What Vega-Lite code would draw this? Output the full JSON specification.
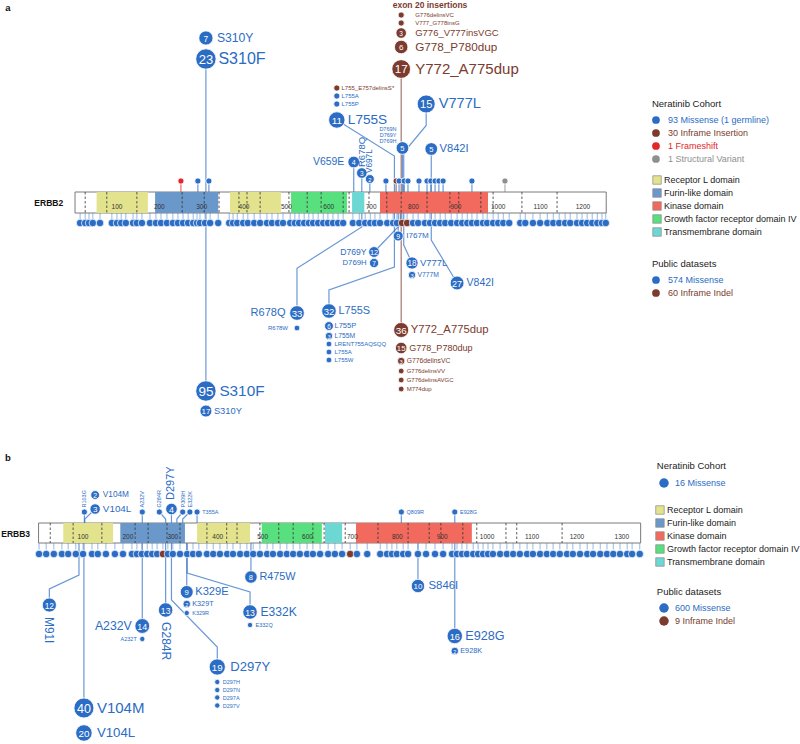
{
"$schema":"https://vega.github.io/schema/vega-lite/v6.json",
"padding":0,"spacing":0,"bounds":"flush","background":"white",
"config":{"view":{"stroke":null},"font":"Liberation Sans","text":{"font":"Liberation Sans"}},
"datasets":{
"ma":[
{"g":"C","x":310,"lv":-164.5,"n":7,"t":"M","lab":"S310Y","s":"r","st":0},
{"g":"C","x":310,"lv":-143.5,"n":23,"t":"M","lab":"S310F","s":"r","st":1},
{"g":"C","x":771,"lv":-187.5,"n":1,"t":"I","lab":"G776delinsVC","s":"rc","st":0},
{"g":"C","x":771,"lv":-179.5,"n":1,"t":"I","lab":"V777_G778insG","s":"rc","st":0},
{"g":"C","x":771,"lv":-169.5,"n":3,"t":"I","lab":"G776_V777insVGC","s":"rc","st":0},
{"g":"C","x":771,"lv":-155.5,"n":6,"t":"I","lab":"G778_P780dup","s":"rc","st":0},
{"g":"C","x":771,"lv":-133.5,"n":17,"t":"I","lab":"Y772_A775dup","s":"rc","st":1},
{"g":"C","x":619,"lv":-114.5,"n":1,"t":"I","lab":"L755_E757delinsS*","s":"r","st":0},
{"g":"C","x":619,"lv":-106.5,"n":1,"t":"M","lab":"L755A","s":"r","st":0},
{"g":"C","x":619,"lv":-98.5,"n":1,"t":"M","lab":"L755P","s":"r","st":0},
{"g":"C","x":619,"lv":-82.5,"n":11,"t":"M","lab":"L755S","s":"r","st":0},
{"g":"C","x":830,"lv":-98.5,"n":15,"t":"M","lab":"V777L","s":"r","st":0},
{"g":"C","x":774,"lv":-54.5,"n":5,"t":"M","lab":"","s":"n","st":1},
{"g":"C","x":842,"lv":-53.5,"n":5,"t":"M","lab":"V842I","s":"r","st":1},
{"g":"C","x":659,"lv":-40.5,"n":4,"t":"M","lab":"V659E","s":"l","st":1},
{"g":"C","x":678,"lv":-29.5,"n":3,"t":"M","lab":"R678Q","s":"u","st":1},
{"g":"C","x":697,"lv":-23.5,"n":2,"t":"M","lab":"V697L","s":"u","st":1},
{"g":"C","x":251,"lv":-21.5,"n":1,"t":"F","lab":"","s":"n","st":1},
{"g":"C","x":291,"lv":-21.5,"n":1,"t":"M","lab":"","s":"n","st":1},
{"g":"C","x":317,"lv":-21.5,"n":1,"t":"M","lab":"","s":"n","st":1},
{"g":"C","x":735,"lv":-21.5,"n":1,"t":"M","lab":"","s":"n","st":1},
{"g":"C","x":759,"lv":-21.5,"n":1,"t":"I","lab":"","s":"n","st":1},
{"g":"C","x":766,"lv":-21.5,"n":1,"t":"M","lab":"","s":"n","st":1},
{"g":"C","x":778,"lv":-21.5,"n":1,"t":"M","lab":"","s":"n","st":1},
{"g":"C","x":787,"lv":-21.5,"n":1,"t":"M","lab":"","s":"n","st":1},
{"g":"C","x":813,"lv":-21.5,"n":1,"t":"M","lab":"","s":"n","st":1},
{"g":"C","x":832,"lv":-21.5,"n":1,"t":"M","lab":"","s":"n","st":1},
{"g":"C","x":841,"lv":-21.5,"n":1,"t":"M","lab":"","s":"n","st":1},
{"g":"C","x":851,"lv":-21.5,"n":1,"t":"M","lab":"","s":"n","st":1},
{"g":"C","x":860,"lv":-21.5,"n":1,"t":"M","lab":"","s":"n","st":1},
{"g":"C","x":870,"lv":-21.5,"n":1,"t":"M","lab":"","s":"n","st":1},
{"g":"C","x":938,"lv":-21.5,"n":1,"t":"M","lab":"","s":"n","st":1},
{"g":"C","x":1016,"lv":-21.5,"n":1,"t":"S","lab":"","s":"n","st":1},
{"g":"P","x":764,"lv":33.5,"n":9,"t":"M","lab":"I767M","s":"r","st":1},
{"g":"P","x":707,"lv":49.5,"n":12,"t":"M","lab":"D769Y","s":"l","st":0},
{"g":"P","x":707,"lv":60.5,"n":7,"t":"M","lab":"D769H","s":"l","st":0},
{"g":"P","x":796.5,"lv":60.5,"n":18,"t":"M","lab":"V777L","s":"r","st":0},
{"g":"P","x":796.5,"lv":72.5,"n":3,"t":"M","lab":"V777M","s":"r","st":0},
{"g":"P","x":903,"lv":80.5,"n":27,"t":"M","lab":"V842I","s":"r","st":0},
{"g":"P","x":525,"lv":110.5,"n":33,"t":"M","lab":"R678Q","s":"l","st":0},
{"g":"P","x":525,"lv":125.5,"n":1,"t":"M","lab":"R678W","s":"l","st":0},
{"g":"P","x":600.5,"lv":108.5,"n":32,"t":"M","lab":"L755S","s":"r","st":0},
{"g":"P","x":600.5,"lv":123.5,"n":6,"t":"M","lab":"L755P","s":"r","st":0},
{"g":"P","x":600.5,"lv":133.5,"n":3,"t":"M","lab":"L755M","s":"r","st":0},
{"g":"P","x":600.5,"lv":141.5,"n":1,"t":"M","lab":"LRENT755AQSQQ","s":"r","st":0},
{"g":"P","x":600.5,"lv":149.5,"n":1,"t":"M","lab":"L755A","s":"r","st":0},
{"g":"P","x":600.5,"lv":157.5,"n":1,"t":"M","lab":"L755W","s":"r","st":0},
{"g":"P","x":771,"lv":127.5,"n":36,"t":"I","lab":"Y772_A775dup","s":"r","st":1},
{"g":"P","x":771,"lv":145.5,"n":15,"t":"I","lab":"G778_P780dup","s":"r","st":0},
{"g":"P","x":771,"lv":158.5,"n":3,"t":"I","lab":"G776delinsVC","s":"r","st":0},
{"g":"P","x":771,"lv":168.5,"n":1,"t":"I","lab":"G776delinsVV","s":"r","st":0},
{"g":"P","x":771,"lv":177.5,"n":1,"t":"I","lab":"G776delinsAVGC","s":"r","st":0},
{"g":"P","x":771,"lv":186.5,"n":1,"t":"I","lab":"M774dup","s":"r","st":0},
{"g":"P","x":310,"lv":188.5,"n":95,"t":"M","lab":"S310F","s":"r","st":1},
{"g":"P","x":310,"lv":208.5,"n":17,"t":"M","lab":"S310Y","s":"r","st":0}
],
"ba":[
{"id":"c1","o":1,"x":755,"lv":0,"t":"M"},{"id":"c1","o":2,"x":755,"lv":-46.5,"t":"M"},{"id":"c1","o":3,"x":619,"lv":-82.5,"t":"M"},
{"id":"c2","o":1,"x":777,"lv":0,"t":"M"},{"id":"c2","o":2,"x":777,"lv":-50,"t":"M"},{"id":"c2","o":3,"x":830,"lv":-77,"t":"M"},{"id":"c2","o":4,"x":830,"lv":-98.5,"t":"M"},
{"id":"p1","o":1,"x":769,"lv":0,"t":"M"},{"id":"p1","o":2,"x":769,"lv":22,"t":"M"},{"id":"p1","o":3,"x":707,"lv":49.5,"t":"M"},
{"id":"p2","o":1,"x":777,"lv":0,"t":"M"},{"id":"p2","o":2,"x":777,"lv":42.5,"t":"M"},{"id":"p2","o":3,"x":796.5,"lv":60.5,"t":"M"},
{"id":"p3","o":1,"x":842,"lv":0,"t":"M"},{"id":"p3","o":2,"x":842,"lv":37.5,"t":"M"},{"id":"p3","o":3,"x":903,"lv":80.5,"t":"M"},
{"id":"p4","o":1,"x":678,"lv":0,"t":"M"},{"id":"p4","o":2,"x":678,"lv":24.5,"t":"M"},{"id":"p4","o":3,"x":525,"lv":65.8,"t":"M"},{"id":"p4","o":4,"x":525,"lv":110.5,"t":"M"},
{"id":"p5","o":1,"x":755,"lv":0,"t":"M"},{"id":"p5","o":2,"x":755,"lv":64.5,"t":"M"},{"id":"p5","o":3,"x":600.5,"lv":87.5,"t":"M"},{"id":"p5","o":4,"x":600.5,"lv":108.5,"t":"M"}
],
"da":[{"x":13},{"x":25},{"x":34},{"x":43},{"x":60},{"x":88},{"x":100},{"x":110},{"x":121},{"x":138},{"x":147},{"x":159},{"x":178},{"x":192},{"x":204},{"x":218},{"x":232},{"x":244},{"x":256},{"x":268},{"x":280},{"x":289},{"x":296},{"x":308},{"x":320},{"x":339},{"x":365},{"x":374},{"x":384},{"x":398},{"x":409},{"x":424},{"x":438},{"x":454},{"x":466},{"x":480},{"x":492},{"x":509},{"x":520},{"x":530},{"x":542},{"x":553},{"x":563},{"x":575},{"x":587},{"x":598},{"x":610},{"x":622},{"x":634},{"x":657},{"x":672},{"x":686},{"x":698},{"x":709},{"x":721},{"x":738},{"x":752},{"x":761},{"x":773,"t":"I"},{"x":785,"t":"I"},{"x":799},{"x":811},{"x":827},{"x":839},{"x":851},{"x":863},{"x":875},{"x":889},{"x":903},{"x":915},{"x":927},{"x":938},{"x":950},{"x":964},{"x":974},{"x":988},{"x":1000},{"x":1012},{"x":1026},{"x":1052},{"x":1064},{"x":1082},{"x":1099},{"x":1116},{"x":1130},{"x":1144},{"x":1158},{"x":1170},{"x":1186},{"x":1198},{"x":1210},{"x":1222},{"x":1234},{"x":1245},{"x":1254}],
"pa":[{"s":1,"e":1255}],
"doma":[{"s":52,"e":173,"dom":"Receptor L domain"},{"s":367,"e":487,"dom":"Receptor L domain"},{"s":190,"e":339,"dom":"Furin-like domain"},{"s":511,"e":643,"dom":"Growth factor receptor domain IV"},{"s":655,"e":684,"dom":"Transmembrane domain"},{"s":721,"e":976,"dom":"Kinase domain"}],
"ea":[{"x":25},{"x":76},{"x":147},{"x":254},{"x":306},{"x":341},{"x":388},{"x":407},{"x":438},{"x":506},{"x":549},{"x":582},{"x":634},{"x":648},{"x":695},{"x":737},{"x":771},{"x":832},{"x":886},{"x":907},{"x":959},{"x":988},{"x":1056},{"x":1139}],
"ka":[{"x":100},{"x":200},{"x":300},{"x":400},{"x":500},{"x":600},{"x":700},{"x":800},{"x":900},{"x":1000},{"x":1100},{"x":1200}],
"na":[{"k":"gene","x":-27,"lv":0.5,"lab":"ERBB2"},{"k":"panel","x":-164,"lv":-194.5,"lab":"a"},{"k":"ex","x":751,"lv":-198,"lab":"exon 20 insertions"},{"k":"d769","x":760,"lv":-73.2,"lab":"D769N"},{"k":"d769","x":760,"lv":-67.5,"lab":"D769Y"},{"k":"d769","x":760,"lv":-61.8,"lab":"D769H"}],
"la":[
{"k":"h","x":1363,"lv":-98.5,"lab":"Neratinib Cohort"},
{"k":"c","x":1372.5,"lv":-82.5,"t":"M","lab":"93 Missense (1 germline)"},
{"k":"c","x":1372.5,"lv":-69.5,"t":"I","lab":"30 Inframe Insertion"},
{"k":"c","x":1372.5,"lv":-56.5,"t":"F","lab":"1 Frameshift"},
{"k":"c","x":1372.5,"lv":-43.5,"t":"S","lab":"1 Structural Variant"},
{"k":"d","x":1375,"lv":-22.5,"dom":"Receptor L domain"},
{"k":"d","x":1375,"lv":-9.5,"dom":"Furin-like domain"},
{"k":"d","x":1375,"lv":3.5,"dom":"Kinase domain"},
{"k":"d","x":1375,"lv":16.5,"dom":"Growth factor receptor domain IV"},
{"k":"d","x":1375,"lv":29.5,"dom":"Transmembrane domain"},
{"k":"h","x":1363,"lv":61.5,"lab":"Public datasets"},
{"k":"c","x":1372.5,"lv":77.5,"t":"M","lab":"574 Missense"},
{"k":"c","x":1372.5,"lv":90.5,"t":"I","lab":"60 Inframe Indel"}
],
"mb":[
{"g":"C","x":103,"lv":-21,"n":1,"t":"M","lab":"R103G","s":"u","st":1},
{"g":"C","x":127,"lv":-24,"n":3,"t":"M","lab":"V104L","s":"r","st":0},
{"g":"C","x":127,"lv":-38,"n":2,"t":"M","lab":"V104M","s":"r","st":0},
{"g":"C","x":232,"lv":-21,"n":1,"t":"M","lab":"A232V","s":"u","st":1},
{"g":"C","x":270,"lv":-21,"n":1,"t":"M","lab":"G284R","s":"u","st":0},
{"g":"C","x":297,"lv":-24,"n":4,"t":"M","lab":"D297Y","s":"u","st":1},
{"g":"C","x":322,"lv":-21,"n":1,"t":"M","lab":"P309H","s":"u","st":0},
{"g":"C","x":338,"lv":-21,"n":1,"t":"M","lab":"E322K","s":"u","st":0},
{"g":"C","x":354,"lv":-21,"n":1,"t":"M","lab":"T355A","s":"r","st":1},
{"g":"C","x":809,"lv":-21,"n":1,"t":"M","lab":"Q809R","s":"r","st":1},
{"g":"C","x":928,"lv":-21,"n":1,"t":"M","lab":"E928G","s":"r","st":1},
{"g":"P","x":25,"lv":72,"n":12,"t":"M","lab":"M91I","s":"d","st":0},
{"g":"P","x":102,"lv":175,"n":40,"t":"M","lab":"V104M","s":"r","st":1},
{"g":"P","x":102,"lv":200,"n":20,"t":"M","lab":"V104L","s":"r","st":0},
{"g":"P","x":232,"lv":93,"n":14,"t":"M","lab":"A232V","s":"l","st":1},
{"g":"P","x":232,"lv":106,"n":1,"t":"M","lab":"A232T","s":"l","st":0},
{"g":"P","x":284,"lv":77,"n":13,"t":"M","lab":"G284R","s":"d","st":1},
{"g":"P","x":399,"lv":134,"n":19,"t":"M","lab":"D297Y","s":"r","st":0},
{"g":"P","x":399,"lv":149,"n":1,"t":"M","lab":"D297H","s":"r","st":0},
{"g":"P","x":399,"lv":157,"n":1,"t":"M","lab":"D297N","s":"r","st":0},
{"g":"P","x":399,"lv":164.5,"n":1,"t":"M","lab":"D297A","s":"r","st":0},
{"g":"P","x":399,"lv":172.5,"n":1,"t":"M","lab":"D297V","s":"r","st":0},
{"g":"P","x":331,"lv":59,"n":9,"t":"M","lab":"K329E","s":"r","st":1},
{"g":"P","x":331,"lv":71,"n":2,"t":"M","lab":"K329T","s":"r","st":0},
{"g":"P","x":331,"lv":80,"n":1,"t":"M","lab":"K329R","s":"r","st":0},
{"g":"P","x":472,"lv":79,"n":13,"t":"M","lab":"E332K","s":"r","st":0},
{"g":"P","x":472,"lv":92,"n":1,"t":"M","lab":"E332Q","s":"r","st":0},
{"g":"P","x":474,"lv":44,"n":8,"t":"M","lab":"R475W","s":"r","st":1},
{"g":"P","x":846,"lv":53,"n":10,"t":"M","lab":"S846I","s":"r","st":1},
{"g":"P","x":928,"lv":103,"n":16,"t":"M","lab":"E928G","s":"r","st":1},
{"g":"P","x":928,"lv":118,"n":2,"t":"M","lab":"E928K","s":"r","st":0}
],
"bb":[
{"id":"c1","o":1,"x":104,"lv":0,"t":"M"},{"id":"c1","o":2,"x":104,"lv":-14,"t":"M"},{"id":"c1","o":3,"x":127,"lv":-24,"t":"M"},
{"id":"c2","o":1,"x":284,"lv":0,"t":"M"},{"id":"c2","o":2,"x":284,"lv":-14,"t":"M"},{"id":"c2","o":3,"x":270,"lv":-21,"t":"M"},
{"id":"c3","o":1,"x":309,"lv":0,"t":"M"},{"id":"c3","o":2,"x":309,"lv":-14,"t":"M"},{"id":"c3","o":3,"x":322,"lv":-21,"t":"M"},
{"id":"c4","o":1,"x":322,"lv":0,"t":"M"},{"id":"c4","o":2,"x":322,"lv":-14,"t":"M"},{"id":"c4","o":3,"x":338,"lv":-21,"t":"M"},
{"id":"p1","o":1,"x":91,"lv":0,"t":"M"},{"id":"p1","o":2,"x":91,"lv":42,"t":"M"},{"id":"p1","o":3,"x":25,"lv":56,"t":"M"},{"id":"p1","o":4,"x":25,"lv":72,"t":"M"},
{"id":"p2","o":1,"x":297,"lv":0,"t":"M"},{"id":"p2","o":2,"x":297,"lv":67,"t":"M"},{"id":"p2","o":3,"x":399,"lv":114,"t":"M"},{"id":"p2","o":4,"x":399,"lv":134,"t":"M"},
{"id":"p3","o":1,"x":332,"lv":0,"t":"M"},{"id":"p3","o":2,"x":332,"lv":40,"t":"M"},{"id":"p3","o":3,"x":472,"lv":59,"t":"M"},{"id":"p3","o":4,"x":472,"lv":79,"t":"M"}
],
"db":[{"x":2},{"x":18},{"x":35},{"x":53},{"x":67},{"x":84},{"x":100},{"x":120},{"x":133},{"x":151},{"x":171},{"x":189},{"x":209},{"x":220},{"x":231},{"x":243},{"x":254},{"x":265},{"x":278,"t":"I"},{"x":289},{"x":300},{"x":316},{"x":332},{"x":345},{"x":358},{"x":376},{"x":390},{"x":405},{"x":421},{"x":434},{"x":450},{"x":465},{"x":479},{"x":494},{"x":510},{"x":523},{"x":539},{"x":554},{"x":568},{"x":583},{"x":599},{"x":612},{"x":628},{"x":646},{"x":661},{"x":677},{"x":695,"t":"I"},{"x":710},{"x":733},{"x":762},{"x":777},{"x":788},{"x":799},{"x":813},{"x":824},{"x":846},{"x":864},{"x":884},{"x":902},{"x":922},{"x":933},{"x":944},{"x":955},{"x":969},{"x":980},{"x":991},{"x":1002},{"x":1013},{"x":1029},{"x":1044},{"x":1058},{"x":1073},{"x":1089},{"x":1102},{"x":1118},{"x":1133},{"x":1147},{"x":1162},{"x":1178},{"x":1191},{"x":1207},{"x":1223},{"x":1236},{"x":1252},{"x":1267},{"x":1281},{"x":1296},{"x":1312},{"x":1323},{"x":1340}],
"pb":[{"s":1,"e":1342}],
"domb":[{"s":56,"e":167,"dom":"Receptor L domain"},{"s":354,"e":472,"dom":"Receptor L domain"},{"s":183,"e":327,"dom":"Furin-like domain"},{"s":498,"e":632,"dom":"Growth factor receptor domain IV"},{"s":639,"e":677,"dom":"Transmembrane domain"},{"s":708,"e":966,"dom":"Kinase domain"}],
"eb":[{"x":27},{"x":78},{"x":142},{"x":216},{"x":245},{"x":287},{"x":316},{"x":376},{"x":420},{"x":443},{"x":494},{"x":536},{"x":568},{"x":612},{"x":637},{"x":684},{"x":757},{"x":824},{"x":871},{"x":897},{"x":946},{"x":977},{"x":1042},{"x":1066},{"x":1167}],
"kb":[{"x":100},{"x":200},{"x":300},{"x":400},{"x":500},{"x":600},{"x":700},{"x":800},{"x":900},{"x":1000},{"x":1100},{"x":1200},{"x":1300}],
"nb":[{"k":"gene","x":-18,"lv":0.5,"lab":"ERBB3"},{"k":"panel","x":-73.7,"lv":-75,"lab":"b"}],
"lb":[
{"k":"h","x":1378,"lv":-67,"lab":"Neratinib Cohort"},
{"k":"c","x":1394,"lv":-50,"t":"M","lab":"16 Missense"},
{"k":"d","x":1385,"lv":-23,"dom":"Receptor L domain"},
{"k":"d","x":1385,"lv":-10,"dom":"Furin-like domain"},
{"k":"d","x":1385,"lv":3,"dom":"Kinase domain"},
{"k":"d","x":1385,"lv":16,"dom":"Growth factor receptor domain IV"},
{"k":"d","x":1385,"lv":29,"dom":"Transmembrane domain"},
{"k":"h","x":1378,"lv":59,"lab":"Public datasets"},
{"k":"c","x":1394,"lv":75,"t":"M","lab":"600 Missense"},
{"k":"c","x":1394,"lv":88,"t":"I","lab":"9 Inframe Indel"}
]
},
"vconcat":[
{
"width":800,"height":450,
"resolve":{"scale":{"size":"independent"}},
"layer":[
{"data":{"name":"ma"},"transform":[{"filter":"datum.st==1"}],"mark":{"type":"rule","strokeWidth":1.2,"opacity":0.7},"encoding":{"x":{"field":"x","type":"quantitative","scale":{"domain":[-176.1,1712.5],"nice":false,"zero":false},"axis":null},"y":{"field":"lv","type":"quantitative","scale":{"domain":[-202.5,247.5],"nice":false,"zero":false,"reverse":true},"axis":null},"y2":{"datum":0},"color":{"field":"t","type":"nominal","scale":{"domain":["M","I","F","S"],"range":["#2b6cc4","#7b3b2e","#e3262b","#8f8f8f"]},"legend":null}}},
{"data":{"name":"ba"},"mark":{"type":"line","strokeWidth":1.2,"opacity":0.7},"encoding":{"x":{"field":"x","type":"quantitative","scale":{"domain":[-176.1,1712.5],"nice":false,"zero":false},"axis":null},"y":{"field":"lv","type":"quantitative","scale":{"domain":[-202.5,247.5],"nice":false,"zero":false,"reverse":true},"axis":null},"detail":{"field":"id","type":"nominal"},"order":{"field":"o","type":"quantitative"},"color":{"field":"t","type":"nominal","scale":{"domain":["M","I","F","S"],"range":["#2b6cc4","#7b3b2e","#e3262b","#8f8f8f"]},"legend":null}}},
{"data":{"name":"da"},"mark":{"type":"rule","strokeWidth":0.8,"color":"#7aa6df"},"encoding":{"x":{"field":"x","type":"quantitative","scale":{"domain":[-176.1,1712.5],"nice":false,"zero":false},"axis":null},"y":{"datum":0,"type":"quantitative","scale":{"domain":[-202.5,247.5],"nice":false,"zero":false,"reverse":true},"axis":null},"y2":{"datum":17.5}}},
{"data":{"name":"pa"},"mark":{"type":"rect","fill":"white","stroke":"#7a7a7a","strokeWidth":1},"encoding":{"x":{"field":"s","type":"quantitative","scale":{"domain":[-176.1,1712.5],"nice":false,"zero":false},"axis":null},"x2":{"field":"e"},"y":{"datum":-10.5,"type":"quantitative","scale":{"domain":[-202.5,247.5],"nice":false,"zero":false,"reverse":true},"axis":null},"y2":{"datum":10.5}}},
{"data":{"name":"doma"},"mark":{"type":"rect"},"encoding":{"x":{"field":"s","type":"quantitative","scale":{"domain":[-176.1,1712.5],"nice":false,"zero":false},"axis":null},"x2":{"field":"e"},"y":{"datum":-10.5,"type":"quantitative","scale":{"domain":[-202.5,247.5],"nice":false,"zero":false,"reverse":true},"axis":null},"y2":{"datum":10.5},"fill":{"field":"dom","type":"nominal","scale":{"domain":["Receptor L domain","Furin-like domain","Kinase domain","Growth factor receptor domain IV","Transmembrane domain"],"range":["#e3e38d","#6b98cb","#f26a5e","#58e07f","#6dd8d3"]},"legend":null}}},
{"data":{"name":"ea"},"mark":{"type":"rule","strokeDash":[2.5,2],"color":"#333","strokeWidth":0.8},"encoding":{"x":{"field":"x","type":"quantitative","scale":{"domain":[-176.1,1712.5],"nice":false,"zero":false},"axis":null},"y":{"datum":-10.5,"type":"quantitative","scale":{"domain":[-202.5,247.5],"nice":false,"zero":false,"reverse":true},"axis":null},"y2":{"datum":10.5}}},
{"data":{"name":"ka"},"mark":{"type":"text","fontSize":6.5,"color":"#333","baseline":"middle"},"encoding":{"x":{"field":"x","type":"quantitative","scale":{"domain":[-176.1,1712.5],"nice":false,"zero":false},"axis":null},"y":{"datum":4,"type":"quantitative","scale":{"domain":[-202.5,247.5],"nice":false,"zero":false,"reverse":true},"axis":null},"text":{"field":"x","type":"quantitative","format":"d"}}},
{"data":{"name":"da"},"mark":{"type":"point","filled":true,"size":56,"stroke":"white","strokeWidth":0.7,"opacity":1},"encoding":{"x":{"field":"x","type":"quantitative","scale":{"domain":[-176.1,1712.5],"nice":false,"zero":false},"axis":null},"y":{"datum":20.5,"type":"quantitative","scale":{"domain":[-202.5,247.5],"nice":false,"zero":false,"reverse":true},"axis":null},"color":{"condition":{"test":"datum.t=='I'","value":"#7b3b2e"},"value":"#2b6cc4"}}},
{"data":{"name":"ma"},"transform":[{"filter":"datum.g=='C'"}],"mark":{"type":"point","filled":true,"stroke":"white","strokeWidth":0.8,"opacity":1},"encoding":{"x":{"field":"x","type":"quantitative","scale":{"domain":[-176.1,1712.5],"nice":false,"zero":false},"axis":null},"y":{"field":"lv","type":"quantitative","scale":{"domain":[-202.5,247.5],"nice":false,"zero":false,"reverse":true},"axis":null},"color":{"field":"t","type":"nominal","scale":{"domain":["M","I","F","S"],"range":["#2b6cc4","#7b3b2e","#e3262b","#8f8f8f"]},"legend":null},"size":{"field":"n","type":"quantitative","scale":{"type":"sqrt","domain":[1,23],"range":[38,415]},"legend":null}}},
{"data":{"name":"ma"},"transform":[{"filter":"datum.g=='P'"}],"mark":{"type":"point","filled":true,"stroke":"white","strokeWidth":0.8,"opacity":1},"encoding":{"x":{"field":"x","type":"quantitative","scale":{"domain":[-176.1,1712.5],"nice":false,"zero":false},"axis":null},"y":{"field":"lv","type":"quantitative","scale":{"domain":[-202.5,247.5],"nice":false,"zero":false,"reverse":true},"axis":null},"color":{"field":"t","type":"nominal","scale":{"domain":["M","I","F","S"],"range":["#2b6cc4","#7b3b2e","#e3262b","#8f8f8f"]},"legend":null},"size":{"field":"n","type":"quantitative","scale":{"type":"pow","exponent":0.65,"domain":[1,95],"range":[33,415]},"legend":null}}},
{"data":{"name":"ma"},"transform":[{"filter":"datum.g=='C'&&datum.n>=2"}],"mark":{"type":"text","align":"center","baseline":"middle","color":"white","dy":0.5},"encoding":{"x":{"field":"x","type":"quantitative","scale":{"domain":[-176.1,1712.5],"nice":false,"zero":false},"axis":null},"y":{"field":"lv","type":"quantitative","scale":{"domain":[-202.5,247.5],"nice":false,"zero":false,"reverse":true},"axis":null},"text":{"field":"n","type":"quantitative"},"size":{"field":"n","type":"quantitative","scale":{"type":"sqrt","domain":[1,23],"range":[5,13]},"legend":null}}},
{"data":{"name":"ma"},"transform":[{"filter":"datum.g=='P'&&datum.n>=2"}],"mark":{"type":"text","align":"center","baseline":"middle","color":"white","dy":0.5},"encoding":{"x":{"field":"x","type":"quantitative","scale":{"domain":[-176.1,1712.5],"nice":false,"zero":false},"axis":null},"y":{"field":"lv","type":"quantitative","scale":{"domain":[-202.5,247.5],"nice":false,"zero":false,"reverse":true},"axis":null},"text":{"field":"n","type":"quantitative"},"size":{"field":"n","type":"quantitative","scale":{"type":"sqrt","domain":[1,95],"range":[5,13.5]},"legend":null}}},
{"data":{"name":"ma"},"transform":[{"filter":"datum.g=='C'&&datum.s=='r'&&datum.n<2"}],"mark":{"type":"text","align":"left","baseline":"middle","dx":4.7},"encoding":{"x":{"field":"x","type":"quantitative","scale":{"domain":[-176.1,1712.5],"nice":false,"zero":false},"axis":null},"y":{"field":"lv","type":"quantitative","scale":{"domain":[-202.5,247.5],"nice":false,"zero":false,"reverse":true},"axis":null},"text":{"field":"lab","type":"nominal"},"color":{"field":"t","type":"nominal","scale":{"domain":["M","I","F","S"],"range":["#2b6cc4","#7b3b2e","#e3262b","#8f8f8f"]},"legend":null},"size":{"field":"n","type":"quantitative","scale":{"type":"log","domain":[1,23],"range":[6,16]},"legend":null}}},
{"data":{"name":"ma"},"transform":[{"filter":"datum.g=='C'&&datum.s=='r'&&datum.n>=2&&datum.n<=5"}],"mark":{"type":"text","align":"left","baseline":"middle","dx":8.3},"encoding":{"x":{"field":"x","type":"quantitative","scale":{"domain":[-176.1,1712.5],"nice":false,"zero":false},"axis":null},"y":{"field":"lv","type":"quantitative","scale":{"domain":[-202.5,247.5],"nice":false,"zero":false,"reverse":true},"axis":null},"text":{"field":"lab","type":"nominal"},"color":{"field":"t","type":"nominal","scale":{"domain":["M","I","F","S"],"range":["#2b6cc4","#7b3b2e","#e3262b","#8f8f8f"]},"legend":null},"size":{"field":"n","type":"quantitative","scale":{"type":"log","domain":[1,23],"range":[6,16]},"legend":null}}},
{"data":{"name":"ma"},"transform":[{"filter":"datum.g=='C'&&datum.s=='r'&&datum.n>=6&&datum.n<=11"}],"mark":{"type":"text","align":"left","baseline":"middle","dx":11},"encoding":{"x":{"field":"x","type":"quantitative","scale":{"domain":[-176.1,1712.5],"nice":false,"zero":false},"axis":null},"y":{"field":"lv","type":"quantitative","scale":{"domain":[-202.5,247.5],"nice":false,"zero":false,"reverse":true},"axis":null},"text":{"field":"lab","type":"nominal"},"color":{"field":"t","type":"nominal","scale":{"domain":["M","I","F","S"],"range":["#2b6cc4","#7b3b2e","#e3262b","#8f8f8f"]},"legend":null},"size":{"field":"n","type":"quantitative","scale":{"type":"log","domain":[1,23],"range":[6,16]},"legend":null}}},
{"data":{"name":"ma"},"transform":[{"filter":"datum.g=='C'&&datum.s=='r'&&datum.n>=12"}],"mark":{"type":"text","align":"left","baseline":"middle","dx":12.5},"encoding":{"x":{"field":"x","type":"quantitative","scale":{"domain":[-176.1,1712.5],"nice":false,"zero":false},"axis":null},"y":{"field":"lv","type":"quantitative","scale":{"domain":[-202.5,247.5],"nice":false,"zero":false,"reverse":true},"axis":null},"text":{"field":"lab","type":"nominal"},"color":{"field":"t","type":"nominal","scale":{"domain":["M","I","F","S"],"range":["#2b6cc4","#7b3b2e","#e3262b","#8f8f8f"]},"legend":null},"size":{"field":"n","type":"quantitative","scale":{"type":"log","domain":[1,23],"range":[6,16]},"legend":null}}},
{"data":{"name":"ma"},"transform":[{"filter":"datum.g=='C'&&datum.s=='rc'"}],"mark":{"type":"text","align":"left","baseline":"middle","dx":14},"encoding":{"x":{"field":"x","type":"quantitative","scale":{"domain":[-176.1,1712.5],"nice":false,"zero":false},"axis":null},"y":{"field":"lv","type":"quantitative","scale":{"domain":[-202.5,247.5],"nice":false,"zero":false,"reverse":true},"axis":null},"text":{"field":"lab","type":"nominal"},"color":{"field":"t","type":"nominal","scale":{"domain":["M","I","F","S"],"range":["#2b6cc4","#7b3b2e","#e3262b","#8f8f8f"]},"legend":null},"size":{"field":"n","type":"quantitative","scale":{"type":"log","domain":[1,23],"range":[6,16]},"legend":null}}},
{"data":{"name":"ma"},"transform":[{"filter":"datum.g=='C'&&datum.s=='l'"}],"mark":{"type":"text","align":"right","baseline":"middle","dx":-9.5},"encoding":{"x":{"field":"x","type":"quantitative","scale":{"domain":[-176.1,1712.5],"nice":false,"zero":false},"axis":null},"y":{"field":"lv","type":"quantitative","scale":{"domain":[-202.5,247.5],"nice":false,"zero":false,"reverse":true},"axis":null},"text":{"field":"lab","type":"nominal"},"color":{"field":"t","type":"nominal","scale":{"domain":["M","I","F","S"],"range":["#2b6cc4","#7b3b2e","#e3262b","#8f8f8f"]},"legend":null},"size":{"field":"n","type":"quantitative","scale":{"type":"log","domain":[1,23],"range":[6,16]},"legend":null}}},
{"data":{"name":"ma"},"transform":[{"filter":"datum.g=='C'&&datum.s=='u'"}],"mark":{"type":"text","align":"left","baseline":"middle","angle":270,"dx":6},"encoding":{"x":{"field":"x","type":"quantitative","scale":{"domain":[-176.1,1712.5],"nice":false,"zero":false},"axis":null},"y":{"field":"lv","type":"quantitative","scale":{"domain":[-202.5,247.5],"nice":false,"zero":false,"reverse":true},"axis":null},"text":{"field":"lab","type":"nominal"},"color":{"field":"t","type":"nominal","scale":{"domain":["M","I","F","S"],"range":["#2b6cc4","#7b3b2e","#e3262b","#8f8f8f"]},"legend":null},"size":{"field":"n","type":"quantitative","scale":{"type":"log","domain":[1,23],"range":[6,16]},"legend":null}}},
{"data":{"name":"ma"},"transform":[{"filter":"datum.g=='P'&&datum.s=='r'&&datum.n<=6"}],"mark":{"type":"text","align":"left","baseline":"middle","dx":5.5},"encoding":{"x":{"field":"x","type":"quantitative","scale":{"domain":[-176.1,1712.5],"nice":false,"zero":false},"axis":null},"y":{"field":"lv","type":"quantitative","scale":{"domain":[-202.5,247.5],"nice":false,"zero":false,"reverse":true},"axis":null},"text":{"field":"lab","type":"nominal"},"color":{"field":"t","type":"nominal","scale":{"domain":["M","I","F","S"],"range":["#2b6cc4","#7b3b2e","#e3262b","#8f8f8f"]},"legend":null},"size":{"field":"n","type":"quantitative","scale":{"type":"sqrt","domain":[1,95],"range":[6,15.3]},"legend":null}}},
{"data":{"name":"ma"},"transform":[{"filter":"datum.g=='P'&&datum.s=='r'&&datum.n>=7&&datum.n<=20"}],"mark":{"type":"text","align":"left","baseline":"middle","dx":8},"encoding":{"x":{"field":"x","type":"quantitative","scale":{"domain":[-176.1,1712.5],"nice":false,"zero":false},"axis":null},"y":{"field":"lv","type":"quantitative","scale":{"domain":[-202.5,247.5],"nice":false,"zero":false,"reverse":true},"axis":null},"text":{"field":"lab","type":"nominal"},"color":{"field":"t","type":"nominal","scale":{"domain":["M","I","F","S"],"range":["#2b6cc4","#7b3b2e","#e3262b","#8f8f8f"]},"legend":null},"size":{"field":"n","type":"quantitative","scale":{"type":"sqrt","domain":[1,95],"range":[6,15.3]},"legend":null}}},
{"data":{"name":"ma"},"transform":[{"filter":"datum.g=='P'&&datum.s=='r'&&datum.n>=21&&datum.n<=40"}],"mark":{"type":"text","align":"left","baseline":"middle","dx":9.5},"encoding":{"x":{"field":"x","type":"quantitative","scale":{"domain":[-176.1,1712.5],"nice":false,"zero":false},"axis":null},"y":{"field":"lv","type":"quantitative","scale":{"domain":[-202.5,247.5],"nice":false,"zero":false,"reverse":true},"axis":null},"text":{"field":"lab","type":"nominal"},"color":{"field":"t","type":"nominal","scale":{"domain":["M","I","F","S"],"range":["#2b6cc4","#7b3b2e","#e3262b","#8f8f8f"]},"legend":null},"size":{"field":"n","type":"quantitative","scale":{"type":"sqrt","domain":[1,95],"range":[6,15.3]},"legend":null}}},
{"data":{"name":"ma"},"transform":[{"filter":"datum.g=='P'&&datum.s=='r'&&datum.n>40"}],"mark":{"type":"text","align":"left","baseline":"middle","dx":13.5},"encoding":{"x":{"field":"x","type":"quantitative","scale":{"domain":[-176.1,1712.5],"nice":false,"zero":false},"axis":null},"y":{"field":"lv","type":"quantitative","scale":{"domain":[-202.5,247.5],"nice":false,"zero":false,"reverse":true},"axis":null},"text":{"field":"lab","type":"nominal"},"color":{"field":"t","type":"nominal","scale":{"domain":["M","I","F","S"],"range":["#2b6cc4","#7b3b2e","#e3262b","#8f8f8f"]},"legend":null},"size":{"field":"n","type":"quantitative","scale":{"type":"sqrt","domain":[1,95],"range":[6,15.3]},"legend":null}}},
{"data":{"name":"ma"},"transform":[{"filter":"datum.g=='P'&&datum.s=='l'&&datum.n<=1"}],"mark":{"type":"text","align":"right","baseline":"middle","dx":-9},"encoding":{"x":{"field":"x","type":"quantitative","scale":{"domain":[-176.1,1712.5],"nice":false,"zero":false},"axis":null},"y":{"field":"lv","type":"quantitative","scale":{"domain":[-202.5,247.5],"nice":false,"zero":false,"reverse":true},"axis":null},"text":{"field":"lab","type":"nominal"},"color":{"field":"t","type":"nominal","scale":{"domain":["M","I","F","S"],"range":["#2b6cc4","#7b3b2e","#e3262b","#8f8f8f"]},"legend":null},"size":{"field":"n","type":"quantitative","scale":{"type":"sqrt","domain":[1,95],"range":[6,15.3]},"legend":null}}},
{"data":{"name":"ma"},"transform":[{"filter":"datum.g=='P'&&datum.s=='l'&&datum.n>=2&&datum.n<=15"}],"mark":{"type":"text","align":"right","baseline":"middle","dx":-7.5},"encoding":{"x":{"field":"x","type":"quantitative","scale":{"domain":[-176.1,1712.5],"nice":false,"zero":false},"axis":null},"y":{"field":"lv","type":"quantitative","scale":{"domain":[-202.5,247.5],"nice":false,"zero":false,"reverse":true},"axis":null},"text":{"field":"lab","type":"nominal"},"color":{"field":"t","type":"nominal","scale":{"domain":["M","I","F","S"],"range":["#2b6cc4","#7b3b2e","#e3262b","#8f8f8f"]},"legend":null},"size":{"field":"n","type":"quantitative","scale":{"type":"sqrt","domain":[1,95],"range":[6,15.3]},"legend":null}}},
{"data":{"name":"ma"},"transform":[{"filter":"datum.g=='P'&&datum.s=='l'&&datum.n>=16"}],"mark":{"type":"text","align":"right","baseline":"middle","dx":-11.5},"encoding":{"x":{"field":"x","type":"quantitative","scale":{"domain":[-176.1,1712.5],"nice":false,"zero":false},"axis":null},"y":{"field":"lv","type":"quantitative","scale":{"domain":[-202.5,247.5],"nice":false,"zero":false,"reverse":true},"axis":null},"text":{"field":"lab","type":"nominal"},"color":{"field":"t","type":"nominal","scale":{"domain":["M","I","F","S"],"range":["#2b6cc4","#7b3b2e","#e3262b","#8f8f8f"]},"legend":null},"size":{"field":"n","type":"quantitative","scale":{"type":"sqrt","domain":[1,95],"range":[6,15.3]},"legend":null}}},
{"data":{"name":"na"},"transform":[{"filter":"datum.k=='gene'"}],"mark":{"type":"text","align":"right","baseline":"middle","fontWeight":"bold","fontSize":8.5,"color":"#111"},"encoding":{"x":{"field":"x","type":"quantitative","scale":{"domain":[-176.1,1712.5],"nice":false,"zero":false},"axis":null},"y":{"field":"lv","type":"quantitative","scale":{"domain":[-202.5,247.5],"nice":false,"zero":false,"reverse":true},"axis":null},"text":{"field":"lab","type":"nominal"}}},
{"data":{"name":"na"},"transform":[{"filter":"datum.k=='panel'"}],"mark":{"type":"text","align":"left","baseline":"middle","fontWeight":"bold","fontSize":9.5,"color":"#111"},"encoding":{"x":{"field":"x","type":"quantitative","scale":{"domain":[-176.1,1712.5],"nice":false,"zero":false},"axis":null},"y":{"field":"lv","type":"quantitative","scale":{"domain":[-202.5,247.5],"nice":false,"zero":false,"reverse":true},"axis":null},"text":{"field":"lab","type":"nominal"}}},
{"data":{"name":"na"},"transform":[{"filter":"datum.k=='ex'"}],"mark":{"type":"text","align":"left","baseline":"middle","fontWeight":"bold","fontSize":8.5,"color":"#7b3b2e"},"encoding":{"x":{"field":"x","type":"quantitative","scale":{"domain":[-176.1,1712.5],"nice":false,"zero":false},"axis":null},"y":{"field":"lv","type":"quantitative","scale":{"domain":[-202.5,247.5],"nice":false,"zero":false,"reverse":true},"axis":null},"text":{"field":"lab","type":"nominal"}}},
{"data":{"name":"na"},"transform":[{"filter":"datum.k=='d769'"}],"mark":{"type":"text","align":"right","baseline":"middle","fontSize":5.5,"color":"#2b6cc4"},"encoding":{"x":{"field":"x","type":"quantitative","scale":{"domain":[-176.1,1712.5],"nice":false,"zero":false},"axis":null},"y":{"field":"lv","type":"quantitative","scale":{"domain":[-202.5,247.5],"nice":false,"zero":false,"reverse":true},"axis":null},"text":{"field":"lab","type":"nominal"}}},
{"data":{"name":"la"},"transform":[{"filter":"datum.k=='h'"}],"mark":{"type":"text","align":"left","baseline":"middle","fontSize":9.5,"color":"#222"},"encoding":{"x":{"field":"x","type":"quantitative","scale":{"domain":[-176.1,1712.5],"nice":false,"zero":false},"axis":null},"y":{"field":"lv","type":"quantitative","scale":{"domain":[-202.5,247.5],"nice":false,"zero":false,"reverse":true},"axis":null},"text":{"field":"lab","type":"nominal"}}},
{"data":{"name":"la"},"transform":[{"filter":"datum.k=='c'"}],"mark":{"type":"point","filled":true,"size":60,"opacity":1},"encoding":{"x":{"field":"x","type":"quantitative","scale":{"domain":[-176.1,1712.5],"nice":false,"zero":false},"axis":null},"y":{"field":"lv","type":"quantitative","scale":{"domain":[-202.5,247.5],"nice":false,"zero":false,"reverse":true},"axis":null},"color":{"field":"t","type":"nominal","scale":{"domain":["M","I","F","S"],"range":["#2b6cc4","#7b3b2e","#e3262b","#8f8f8f"]},"legend":null}}},
{"data":{"name":"la"},"transform":[{"filter":"datum.k=='c'"}],"mark":{"type":"text","align":"left","baseline":"middle","fontSize":9,"dx":12},"encoding":{"x":{"field":"x","type":"quantitative","scale":{"domain":[-176.1,1712.5],"nice":false,"zero":false},"axis":null},"y":{"field":"lv","type":"quantitative","scale":{"domain":[-202.5,247.5],"nice":false,"zero":false,"reverse":true},"axis":null},"text":{"field":"lab","type":"nominal"},"color":{"field":"t","type":"nominal","scale":{"domain":["M","I","F","S"],"range":["#2b6cc4","#7b3b2e","#e3262b","#8f8f8f"]},"legend":null}}},
{"data":{"name":"la"},"transform":[{"filter":"datum.k=='d'"}],"mark":{"type":"point","shape":"square","filled":true,"size":72,"stroke":"#888","strokeWidth":0.7,"opacity":1},"encoding":{"x":{"field":"x","type":"quantitative","scale":{"domain":[-176.1,1712.5],"nice":false,"zero":false},"axis":null},"y":{"field":"lv","type":"quantitative","scale":{"domain":[-202.5,247.5],"nice":false,"zero":false,"reverse":true},"axis":null},"fill":{"field":"dom","type":"nominal","scale":{"domain":["Receptor L domain","Furin-like domain","Kinase domain","Growth factor receptor domain IV","Transmembrane domain"],"range":["#e3e38d","#6b98cb","#f26a5e","#58e07f","#6dd8d3"]},"legend":null}}},
{"data":{"name":"la"},"transform":[{"filter":"datum.k=='d'"}],"mark":{"type":"text","align":"left","baseline":"middle","fontSize":9,"dx":7,"color":"#222"},"encoding":{"x":{"field":"x","type":"quantitative","scale":{"domain":[-176.1,1712.5],"nice":false,"zero":false},"axis":null},"y":{"field":"lv","type":"quantitative","scale":{"domain":[-202.5,247.5],"nice":false,"zero":false,"reverse":true},"axis":null},"text":{"field":"dom","type":"nominal"}}}
]
},
{
"width":800,"height":294,
"resolve":{"scale":{"size":"independent"}},
"layer":[
{"data":{"name":"mb"},"transform":[{"filter":"datum.st==1"}],"mark":{"type":"rule","strokeWidth":1.2,"opacity":0.7},"encoding":{"x":{"field":"x","type":"quantitative","scale":{"domain":[-84.9,1696.9],"nice":false,"zero":false},"axis":null},"y":{"field":"lv","type":"quantitative","scale":{"domain":[-83,211],"nice":false,"zero":false,"reverse":true},"axis":null},"y2":{"datum":0},"color":{"field":"t","type":"nominal","scale":{"domain":["M","I","F","S"],"range":["#2b6cc4","#7b3b2e","#e3262b","#8f8f8f"]},"legend":null}}},
{"data":{"name":"bb"},"mark":{"type":"line","strokeWidth":1.2,"opacity":0.7},"encoding":{"x":{"field":"x","type":"quantitative","scale":{"domain":[-84.9,1696.9],"nice":false,"zero":false},"axis":null},"y":{"field":"lv","type":"quantitative","scale":{"domain":[-83,211],"nice":false,"zero":false,"reverse":true},"axis":null},"detail":{"field":"id","type":"nominal"},"order":{"field":"o","type":"quantitative"},"color":{"field":"t","type":"nominal","scale":{"domain":["M","I","F","S"],"range":["#2b6cc4","#7b3b2e","#e3262b","#8f8f8f"]},"legend":null}}},
{"data":{"name":"db"},"mark":{"type":"rule","strokeWidth":0.8,"color":"#7aa6df"},"encoding":{"x":{"field":"x","type":"quantitative","scale":{"domain":[-84.9,1696.9],"nice":false,"zero":false},"axis":null},"y":{"datum":0,"type":"quantitative","scale":{"domain":[-83,211],"nice":false,"zero":false,"reverse":true},"axis":null},"y2":{"datum":16.5}}},
{"data":{"name":"pb"},"mark":{"type":"rect","fill":"white","stroke":"#7a7a7a","strokeWidth":1},"encoding":{"x":{"field":"s","type":"quantitative","scale":{"domain":[-84.9,1696.9],"nice":false,"zero":false},"axis":null},"x2":{"field":"e"},"y":{"datum":-10,"type":"quantitative","scale":{"domain":[-83,211],"nice":false,"zero":false,"reverse":true},"axis":null},"y2":{"datum":10}}},
{"data":{"name":"domb"},"mark":{"type":"rect"},"encoding":{"x":{"field":"s","type":"quantitative","scale":{"domain":[-84.9,1696.9],"nice":false,"zero":false},"axis":null},"x2":{"field":"e"},"y":{"datum":-10,"type":"quantitative","scale":{"domain":[-83,211],"nice":false,"zero":false,"reverse":true},"axis":null},"y2":{"datum":10},"fill":{"field":"dom","type":"nominal","scale":{"domain":["Receptor L domain","Furin-like domain","Kinase domain","Growth factor receptor domain IV","Transmembrane domain"],"range":["#e3e38d","#6b98cb","#f26a5e","#58e07f","#6dd8d3"]},"legend":null}}},
{"data":{"name":"eb"},"mark":{"type":"rule","strokeDash":[2.5,2],"color":"#333","strokeWidth":0.8},"encoding":{"x":{"field":"x","type":"quantitative","scale":{"domain":[-84.9,1696.9],"nice":false,"zero":false},"axis":null},"y":{"datum":-10,"type":"quantitative","scale":{"domain":[-83,211],"nice":false,"zero":false,"reverse":true},"axis":null},"y2":{"datum":10}}},
{"data":{"name":"kb"},"mark":{"type":"text","fontSize":6.5,"color":"#333","baseline":"middle"},"encoding":{"x":{"field":"x","type":"quantitative","scale":{"domain":[-84.9,1696.9],"nice":false,"zero":false},"axis":null},"y":{"datum":3.7,"type":"quantitative","scale":{"domain":[-83,211],"nice":false,"zero":false,"reverse":true},"axis":null},"text":{"field":"x","type":"quantitative","format":"d"}}},
{"data":{"name":"db"},"mark":{"type":"point","filled":true,"size":56,"stroke":"white","strokeWidth":0.7,"opacity":1},"encoding":{"x":{"field":"x","type":"quantitative","scale":{"domain":[-84.9,1696.9],"nice":false,"zero":false},"axis":null},"y":{"datum":21,"type":"quantitative","scale":{"domain":[-83,211],"nice":false,"zero":false,"reverse":true},"axis":null},"color":{"condition":{"test":"datum.t=='I'","value":"#7b3b2e"},"value":"#2b6cc4"}}},
{"data":{"name":"mb"},"transform":[{"filter":"datum.g=='C'"}],"mark":{"type":"point","filled":true,"stroke":"white","strokeWidth":0.8,"opacity":1},"encoding":{"x":{"field":"x","type":"quantitative","scale":{"domain":[-84.9,1696.9],"nice":false,"zero":false},"axis":null},"y":{"field":"lv","type":"quantitative","scale":{"domain":[-83,211],"nice":false,"zero":false,"reverse":true},"axis":null},"color":{"field":"t","type":"nominal","scale":{"domain":["M","I","F","S"],"range":["#2b6cc4","#7b3b2e","#e3262b","#8f8f8f"]},"legend":null},"size":{"field":"n","type":"quantitative","scale":{"type":"sqrt","domain":[1,4],"range":[38,133]},"legend":null}}},
{"data":{"name":"mb"},"transform":[{"filter":"datum.g=='P'"}],"mark":{"type":"point","filled":true,"stroke":"white","strokeWidth":0.8,"opacity":1},"encoding":{"x":{"field":"x","type":"quantitative","scale":{"domain":[-84.9,1696.9],"nice":false,"zero":false},"axis":null},"y":{"field":"lv","type":"quantitative","scale":{"domain":[-83,211],"nice":false,"zero":false,"reverse":true},"axis":null},"color":{"field":"t","type":"nominal","scale":{"domain":["M","I","F","S"],"range":["#2b6cc4","#7b3b2e","#e3262b","#8f8f8f"]},"legend":null},"size":{"field":"n","type":"quantitative","scale":{"type":"sqrt","domain":[1,40],"range":[28,400]},"legend":null}}},
{"data":{"name":"mb"},"transform":[{"filter":"datum.g=='C'&&datum.n>=2"}],"mark":{"type":"text","align":"center","baseline":"middle","color":"white","dy":0.5},"encoding":{"x":{"field":"x","type":"quantitative","scale":{"domain":[-84.9,1696.9],"nice":false,"zero":false},"axis":null},"y":{"field":"lv","type":"quantitative","scale":{"domain":[-83,211],"nice":false,"zero":false,"reverse":true},"axis":null},"text":{"field":"n","type":"quantitative"},"size":{"field":"n","type":"quantitative","scale":{"type":"sqrt","domain":[1,4],"range":[5.5,9]},"legend":null}}},
{"data":{"name":"mb"},"transform":[{"filter":"datum.g=='P'&&datum.n>=2"}],"mark":{"type":"text","align":"center","baseline":"middle","color":"white","dy":0.5},"encoding":{"x":{"field":"x","type":"quantitative","scale":{"domain":[-84.9,1696.9],"nice":false,"zero":false},"axis":null},"y":{"field":"lv","type":"quantitative","scale":{"domain":[-83,211],"nice":false,"zero":false,"reverse":true},"axis":null},"text":{"field":"n","type":"quantitative"},"size":{"field":"n","type":"quantitative","scale":{"type":"sqrt","domain":[1,40],"range":[5,12.5]},"legend":null}}},
{"data":{"name":"mb"},"transform":[{"filter":"datum.g=='C'&&datum.s=='r'&&datum.n<2"}],"mark":{"type":"text","align":"left","baseline":"middle","dx":5.2},"encoding":{"x":{"field":"x","type":"quantitative","scale":{"domain":[-84.9,1696.9],"nice":false,"zero":false},"axis":null},"y":{"field":"lv","type":"quantitative","scale":{"domain":[-83,211],"nice":false,"zero":false,"reverse":true},"axis":null},"text":{"field":"lab","type":"nominal"},"color":{"field":"t","type":"nominal","scale":{"domain":["M","I","F","S"],"range":["#2b6cc4","#7b3b2e","#e3262b","#8f8f8f"]},"legend":null},"size":{"field":"n","type":"quantitative","scale":{"type":"log","domain":[1,4],"range":[5.5,11]},"legend":null}}},
{"data":{"name":"mb"},"transform":[{"filter":"datum.g=='C'&&datum.s=='r'&&datum.n>=2"}],"mark":{"type":"text","align":"left","baseline":"middle","dx":7.7},"encoding":{"x":{"field":"x","type":"quantitative","scale":{"domain":[-84.9,1696.9],"nice":false,"zero":false},"axis":null},"y":{"field":"lv","type":"quantitative","scale":{"domain":[-83,211],"nice":false,"zero":false,"reverse":true},"axis":null},"text":{"field":"lab","type":"nominal"},"color":{"field":"t","type":"nominal","scale":{"domain":["M","I","F","S"],"range":["#2b6cc4","#7b3b2e","#e3262b","#8f8f8f"]},"legend":null},"size":{"field":"n","type":"quantitative","scale":{"type":"log","domain":[1,4],"range":[5.5,11]},"legend":null}}},
{"data":{"name":"mb"},"transform":[{"filter":"datum.g=='C'&&datum.s=='u'&&datum.n<2"}],"mark":{"type":"text","align":"left","baseline":"middle","angle":270,"dx":4.5},"encoding":{"x":{"field":"x","type":"quantitative","scale":{"domain":[-84.9,1696.9],"nice":false,"zero":false},"axis":null},"y":{"field":"lv","type":"quantitative","scale":{"domain":[-83,211],"nice":false,"zero":false,"reverse":true},"axis":null},"text":{"field":"lab","type":"nominal"},"color":{"field":"t","type":"nominal","scale":{"domain":["M","I","F","S"],"range":["#2b6cc4","#7b3b2e","#e3262b","#8f8f8f"]},"legend":null},"size":{"field":"n","type":"quantitative","scale":{"type":"log","domain":[1,4],"range":[5.5,11]},"legend":null}}},
{"data":{"name":"mb"},"transform":[{"filter":"datum.g=='C'&&datum.s=='u'&&datum.n>=2"}],"mark":{"type":"text","align":"left","baseline":"middle","angle":270,"dx":9},"encoding":{"x":{"field":"x","type":"quantitative","scale":{"domain":[-84.9,1696.9],"nice":false,"zero":false},"axis":null},"y":{"field":"lv","type":"quantitative","scale":{"domain":[-83,211],"nice":false,"zero":false,"reverse":true},"axis":null},"text":{"field":"lab","type":"nominal"},"color":{"field":"t","type":"nominal","scale":{"domain":["M","I","F","S"],"range":["#2b6cc4","#7b3b2e","#e3262b","#8f8f8f"]},"legend":null},"size":{"field":"n","type":"quantitative","scale":{"type":"log","domain":[1,4],"range":[5.5,11]},"legend":null}}},
{"data":{"name":"mb"},"transform":[{"filter":"datum.g=='P'&&datum.s=='r'&&datum.n<=2"}],"mark":{"type":"text","align":"left","baseline":"middle","dx":5.5},"encoding":{"x":{"field":"x","type":"quantitative","scale":{"domain":[-84.9,1696.9],"nice":false,"zero":false},"axis":null},"y":{"field":"lv","type":"quantitative","scale":{"domain":[-83,211],"nice":false,"zero":false,"reverse":true},"axis":null},"text":{"field":"lab","type":"nominal"},"color":{"field":"t","type":"nominal","scale":{"domain":["M","I","F","S"],"range":["#2b6cc4","#7b3b2e","#e3262b","#8f8f8f"]},"legend":null},"size":{"field":"n","type":"quantitative","scale":{"type":"log","domain":[1,40],"range":[5.5,15]},"legend":null}}},
{"data":{"name":"mb"},"transform":[{"filter":"datum.g=='P'&&datum.s=='r'&&datum.n>=3&&datum.n<=9"}],"mark":{"type":"text","align":"left","baseline":"middle","dx":8.5},"encoding":{"x":{"field":"x","type":"quantitative","scale":{"domain":[-84.9,1696.9],"nice":false,"zero":false},"axis":null},"y":{"field":"lv","type":"quantitative","scale":{"domain":[-83,211],"nice":false,"zero":false,"reverse":true},"axis":null},"text":{"field":"lab","type":"nominal"},"color":{"field":"t","type":"nominal","scale":{"domain":["M","I","F","S"],"range":["#2b6cc4","#7b3b2e","#e3262b","#8f8f8f"]},"legend":null},"size":{"field":"n","type":"quantitative","scale":{"type":"log","domain":[1,40],"range":[5.5,15]},"legend":null}}},
{"data":{"name":"mb"},"transform":[{"filter":"datum.g=='P'&&datum.s=='r'&&datum.n>=10&&datum.n<=16"}],"mark":{"type":"text","align":"left","baseline":"middle","dx":10.5},"encoding":{"x":{"field":"x","type":"quantitative","scale":{"domain":[-84.9,1696.9],"nice":false,"zero":false},"axis":null},"y":{"field":"lv","type":"quantitative","scale":{"domain":[-83,211],"nice":false,"zero":false,"reverse":true},"axis":null},"text":{"field":"lab","type":"nominal"},"color":{"field":"t","type":"nominal","scale":{"domain":["M","I","F","S"],"range":["#2b6cc4","#7b3b2e","#e3262b","#8f8f8f"]},"legend":null},"size":{"field":"n","type":"quantitative","scale":{"type":"log","domain":[1,40],"range":[5.5,15]},"legend":null}}},
{"data":{"name":"mb"},"transform":[{"filter":"datum.g=='P'&&datum.s=='r'&&datum.n>=17"}],"mark":{"type":"text","align":"left","baseline":"middle","dx":13},"encoding":{"x":{"field":"x","type":"quantitative","scale":{"domain":[-84.9,1696.9],"nice":false,"zero":false},"axis":null},"y":{"field":"lv","type":"quantitative","scale":{"domain":[-83,211],"nice":false,"zero":false,"reverse":true},"axis":null},"text":{"field":"lab","type":"nominal"},"color":{"field":"t","type":"nominal","scale":{"domain":["M","I","F","S"],"range":["#2b6cc4","#7b3b2e","#e3262b","#8f8f8f"]},"legend":null},"size":{"field":"n","type":"quantitative","scale":{"type":"log","domain":[1,40],"range":[5.5,15]},"legend":null}}},
{"data":{"name":"mb"},"transform":[{"filter":"datum.g=='P'&&datum.s=='l'&&datum.n<=2"}],"mark":{"type":"text","align":"right","baseline":"middle","dx":-5.5},"encoding":{"x":{"field":"x","type":"quantitative","scale":{"domain":[-84.9,1696.9],"nice":false,"zero":false},"axis":null},"y":{"field":"lv","type":"quantitative","scale":{"domain":[-83,211],"nice":false,"zero":false,"reverse":true},"axis":null},"text":{"field":"lab","type":"nominal"},"color":{"field":"t","type":"nominal","scale":{"domain":["M","I","F","S"],"range":["#2b6cc4","#7b3b2e","#e3262b","#8f8f8f"]},"legend":null},"size":{"field":"n","type":"quantitative","scale":{"type":"log","domain":[1,40],"range":[5.5,15]},"legend":null}}},
{"data":{"name":"mb"},"transform":[{"filter":"datum.g=='P'&&datum.s=='l'&&datum.n>2"}],"mark":{"type":"text","align":"right","baseline":"middle","dx":-10.5},"encoding":{"x":{"field":"x","type":"quantitative","scale":{"domain":[-84.9,1696.9],"nice":false,"zero":false},"axis":null},"y":{"field":"lv","type":"quantitative","scale":{"domain":[-83,211],"nice":false,"zero":false,"reverse":true},"axis":null},"text":{"field":"lab","type":"nominal"},"color":{"field":"t","type":"nominal","scale":{"domain":["M","I","F","S"],"range":["#2b6cc4","#7b3b2e","#e3262b","#8f8f8f"]},"legend":null},"size":{"field":"n","type":"quantitative","scale":{"type":"log","domain":[1,40],"range":[5.5,15]},"legend":null}}},
{"data":{"name":"mb"},"transform":[{"filter":"datum.g=='P'&&datum.s=='d'"}],"mark":{"type":"text","align":"left","baseline":"middle","angle":90,"dx":12},"encoding":{"x":{"field":"x","type":"quantitative","scale":{"domain":[-84.9,1696.9],"nice":false,"zero":false},"axis":null},"y":{"field":"lv","type":"quantitative","scale":{"domain":[-83,211],"nice":false,"zero":false,"reverse":true},"axis":null},"text":{"field":"lab","type":"nominal"},"color":{"field":"t","type":"nominal","scale":{"domain":["M","I","F","S"],"range":["#2b6cc4","#7b3b2e","#e3262b","#8f8f8f"]},"legend":null},"size":{"field":"n","type":"quantitative","scale":{"type":"log","domain":[1,40],"range":[5.5,15]},"legend":null}}},
{"data":{"name":"nb"},"transform":[{"filter":"datum.k=='gene'"}],"mark":{"type":"text","align":"right","baseline":"middle","fontWeight":"bold","fontSize":8.5,"color":"#111"},"encoding":{"x":{"field":"x","type":"quantitative","scale":{"domain":[-84.9,1696.9],"nice":false,"zero":false},"axis":null},"y":{"field":"lv","type":"quantitative","scale":{"domain":[-83,211],"nice":false,"zero":false,"reverse":true},"axis":null},"text":{"field":"lab","type":"nominal"}}},
{"data":{"name":"nb"},"transform":[{"filter":"datum.k=='panel'"}],"mark":{"type":"text","align":"left","baseline":"middle","fontWeight":"bold","fontSize":9.5,"color":"#111"},"encoding":{"x":{"field":"x","type":"quantitative","scale":{"domain":[-84.9,1696.9],"nice":false,"zero":false},"axis":null},"y":{"field":"lv","type":"quantitative","scale":{"domain":[-83,211],"nice":false,"zero":false,"reverse":true},"axis":null},"text":{"field":"lab","type":"nominal"}}},
{"data":{"name":"lb"},"transform":[{"filter":"datum.k=='h'"}],"mark":{"type":"text","align":"left","baseline":"middle","fontSize":9.5,"color":"#222"},"encoding":{"x":{"field":"x","type":"quantitative","scale":{"domain":[-84.9,1696.9],"nice":false,"zero":false},"axis":null},"y":{"field":"lv","type":"quantitative","scale":{"domain":[-83,211],"nice":false,"zero":false,"reverse":true},"axis":null},"text":{"field":"lab","type":"nominal"}}},
{"data":{"name":"lb"},"transform":[{"filter":"datum.k=='c'"}],"mark":{"type":"point","filled":true,"size":90,"opacity":1},"encoding":{"x":{"field":"x","type":"quantitative","scale":{"domain":[-84.9,1696.9],"nice":false,"zero":false},"axis":null},"y":{"field":"lv","type":"quantitative","scale":{"domain":[-83,211],"nice":false,"zero":false,"reverse":true},"axis":null},"color":{"field":"t","type":"nominal","scale":{"domain":["M","I","F","S"],"range":["#2b6cc4","#7b3b2e","#e3262b","#8f8f8f"]},"legend":null}}},
{"data":{"name":"lb"},"transform":[{"filter":"datum.k=='c'"}],"mark":{"type":"text","align":"left","baseline":"middle","fontSize":9,"dx":11},"encoding":{"x":{"field":"x","type":"quantitative","scale":{"domain":[-84.9,1696.9],"nice":false,"zero":false},"axis":null},"y":{"field":"lv","type":"quantitative","scale":{"domain":[-83,211],"nice":false,"zero":false,"reverse":true},"axis":null},"text":{"field":"lab","type":"nominal"},"color":{"field":"t","type":"nominal","scale":{"domain":["M","I","F","S"],"range":["#2b6cc4","#7b3b2e","#e3262b","#8f8f8f"]},"legend":null}}},
{"data":{"name":"lb"},"transform":[{"filter":"datum.k=='d'"}],"mark":{"type":"point","shape":"square","filled":true,"size":72,"stroke":"#888","strokeWidth":0.7,"opacity":1},"encoding":{"x":{"field":"x","type":"quantitative","scale":{"domain":[-84.9,1696.9],"nice":false,"zero":false},"axis":null},"y":{"field":"lv","type":"quantitative","scale":{"domain":[-83,211],"nice":false,"zero":false,"reverse":true},"axis":null},"fill":{"field":"dom","type":"nominal","scale":{"domain":["Receptor L domain","Furin-like domain","Kinase domain","Growth factor receptor domain IV","Transmembrane domain"],"range":["#e3e38d","#6b98cb","#f26a5e","#58e07f","#6dd8d3"]},"legend":null}}},
{"data":{"name":"lb"},"transform":[{"filter":"datum.k=='d'"}],"mark":{"type":"text","align":"left","baseline":"middle","fontSize":9,"dx":7,"color":"#222"},"encoding":{"x":{"field":"x","type":"quantitative","scale":{"domain":[-84.9,1696.9],"nice":false,"zero":false},"axis":null},"y":{"field":"lv","type":"quantitative","scale":{"domain":[-83,211],"nice":false,"zero":false,"reverse":true},"axis":null},"text":{"field":"dom","type":"nominal"}}}
]
}
]
}
